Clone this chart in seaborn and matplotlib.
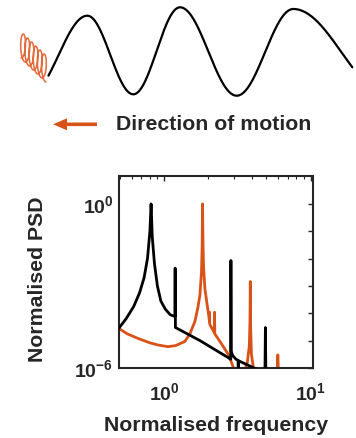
import numpy as np
import pandas as pd
import matplotlib
matplotlib.use("Agg")
import matplotlib.pyplot as plt
import matplotlib.ticker as mticker
import seaborn as sns

# ---------------- data ----------------
black_freq = [0.49, 0.55, 0.62, 0.68, 0.73, 0.77, 0.80, 0.815, 0.83, 0.86, 0.90, 0.95,
              1.02, 1.10, 1.185, 1.19, 1.195, 1.76, 2.34, 2.80, 2.855, 2.86, 2.87,
              2.95, 3.10, 3.20, 3.21, 3.23, 3.30, 4.31, 4.88, 4.92, 4.96]
black_logpsd = [-4.55, -4.2, -3.75, -3.25, -2.7, -2.0, -1.0, 0.0, -1.2, -2.2, -3.0, -3.55,
                -3.85, -4.05, -4.12, -2.35, -4.52, -5.0, -5.4, -5.65, -5.68, -2.07, -5.4,
                -5.55, -5.68, -5.72, -6.3, -5.74, -5.76, -6.05, -6.4, -4.52, -6.4]

orange_freq = [0.49, 0.56, 0.664, 0.80, 0.91, 1.065, 1.20, 1.386, 1.50, 1.623, 1.70,
               1.757, 1.80, 1.82, 1.83, 1.845, 1.86, 1.90, 1.97, 2.02, 2.04, 2.045, 2.05,
               2.12, 2.20, 2.21, 2.22, 2.42, 2.76, 2.98, 3.20, 3.50, 3.70, 3.82, 3.86,
               3.88, 3.90, 3.95, 4.10, 5.90, 5.98, 6.06]
orange_logpsd = [-4.55, -4.75, -4.92, -5.08, -5.16, -5.22, -5.18, -5.03, -4.75, -4.30, -3.8,
                 -3.33, -2.5, -1.5, 0.0, -1.5, -2.3, -3.1, -3.7, -4.1, -4.3, -3.96, -4.4,
                 -4.55, -4.7, -3.96, -4.75, -5.05, -5.52, -6.0, -6.3, -6.2, -5.8, -5.2, -4.3,
                 -2.84, -4.5, -5.5, -6.1, -6.4, -5.52, -6.4]

ytick_vals = [1e-6, 1e-5, 1e-4, 1e-3, 1e-2, 1e-1, 1e0]
ytick_labels = [r"$10^{-6}$", "", "", "", "", "", r"$10^{0}$"]
xtick_vals = [1e0, 1e1]
xtick_labels = [r"$10^{0}$", r"$10^{1}$"]

# schematic wave extrema (pixel positions of the illustration)
wave_x = [30.0, 87.3, 133.3, 180.0, 236.7, 293.3, 390.0]
wave_y = [94.0, 15.7, 94.3, 7.3, 95.7, 9.0, 96.0]
wave_start, wave_end = 48.3, 352.7

# ---------------- style ----------------
sns.set_style("white")
plt.rcParams["font.family"] = ["Liberation Sans", "DejaVu Sans"]
plt.rcParams["font.weight"] = "bold"
plt.rcParams["mathtext.fontset"] = "custom"
plt.rcParams["mathtext.rm"] = "Liberation Sans:bold"
plt.rcParams["mathtext.bf"] = "Liberation Sans:bold"
plt.rcParams["mathtext.it"] = "Liberation Sans:bold"
plt.rcParams["mathtext.default"] = "rm"

ORANGE = "#D95319"
BLACK = "#000000"
AXCOL = "#262626"

fig = plt.figure(figsize=(3.56, 4.38), dpi=100)
fig.patch.set_facecolor("white")

# ---------------- schematic overlay ----------------
ov = fig.add_axes([0, 0, 1, 1])
ov.set_xlim(0, 356)
ov.set_ylim(438, 0)
ov.set_axis_off()
ov.patch.set_visible(False)

xs, ys = [], []
for i in range(len(wave_x) - 1):
    s = np.linspace(0, 1, 60)
    x = wave_x[i] + s * (wave_x[i + 1] - wave_x[i])
    y = wave_y[i] + (wave_y[i + 1] - wave_y[i]) * (1 - np.cos(np.pi * s)) / 2
    xs.append(x); ys.append(y)
xs = np.concatenate(xs); ys = np.concatenate(ys)
m = (xs >= wave_start) & (xs <= wave_end)
ov.plot(xs[m], ys[m], color=BLACK, lw=1.6, solid_capstyle="round")

t = np.linspace(0, 1, 800)
n_loops = 6
cx = 21 + 25 * t
cy = 45 + 24 * t
ov.plot(cx + 3.4 * np.sin(2 * np.pi * n_loops * t),
        cy + 13 * np.cos(2 * np.pi * n_loops * t),
        color="#E2693A", lw=1.1)

ov.arrow(97, 124.3, -44, 0, width=3.6, head_width=12, head_length=14,
         length_includes_head=True, color=ORANGE, lw=0)
ov.text(116, 124.5, "Direction of motion", fontsize=15.3, fontweight="bold",
        ha="left", va="center")

# ---------------- PSD plot ----------------
ax = fig.add_axes([119 / 356, 1 - 368 / 438, (313 - 119) / 356, (368 - 176) / 438])
ax.set_xscale("log")
ax.set_yscale("log")

bdf = pd.DataFrame({"f": black_freq, "psd": 10.0 ** np.array(black_logpsd)})
odf = pd.DataFrame({"f": orange_freq, "psd": 10.0 ** np.array(orange_logpsd)})
sns.lineplot(data=bdf, x="f", y="psd", sort=False, estimator=None, color=BLACK,
             lw=2.0, ax=ax, zorder=3)
sns.lineplot(data=odf, x="f", y="psd", sort=False, estimator=None, color=ORANGE,
             lw=2.0, ax=ax, zorder=2)

ax.set_xlim(0.492, 10.4)
ax.set_ylim(1e-6, 10 ** 1.02)

ax.yaxis.set_major_locator(mticker.FixedLocator(ytick_vals))
ax.yaxis.set_major_formatter(mticker.FixedFormatter(ytick_labels))
ax.yaxis.set_minor_locator(mticker.NullLocator())
ax.xaxis.set_major_locator(mticker.FixedLocator(xtick_vals))
ax.xaxis.set_major_formatter(mticker.FixedFormatter(xtick_labels))
ax.xaxis.set_minor_locator(mticker.LogLocator(base=10, subs=np.arange(2, 10)))
ax.xaxis.set_minor_formatter(mticker.NullFormatter())

ax.tick_params(which="both", direction="in", top=True, right=True, color=AXCOL,
               labelsize=14, labelcolor="#262626")
ax.tick_params(which="major", length=3.5, width=1.0)
ax.tick_params(axis="x", which="major", pad=10)
ax.tick_params(axis="y", which="major", pad=4)
ax.tick_params(which="minor", length=2, width=0.8)
for sp in ax.spines.values():
    sp.set_visible(True)
    sp.set_color(AXCOL)
    sp.set_linewidth(1.5)

ax.set_xlabel("Normalised frequency", fontsize=15.3, fontweight="bold", labelpad=9)
ax.set_ylabel("Normalised PSD", fontsize=15.3, fontweight="bold")
ax.yaxis.set_label_coords(-0.371, 0.464)
ax.grid(False)

fig.savefig("out.png", dpi=100, facecolor="white")
